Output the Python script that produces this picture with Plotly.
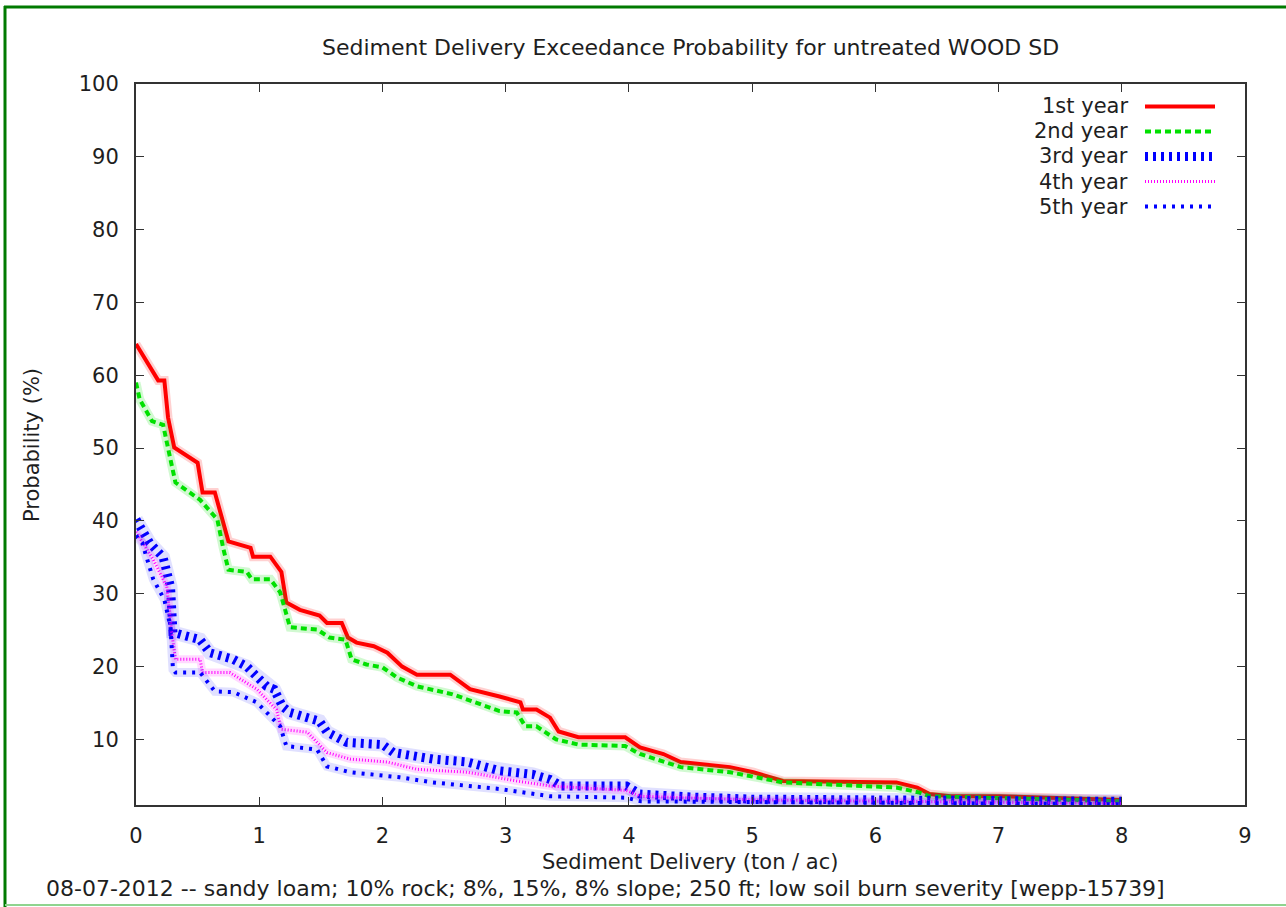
import plotly.graph_objects as go

# ---------------- data ----------------
series_names = ["1st year", "2nd year", "3rd year", "4th year", "5th year"]

yr1_x = [0, 0.18, 0.23, 0.26, 0.31, 0.5, 0.54, 0.64, 0.75, 0.93, 0.95, 1.09, 1.18, 1.22, 1.33, 1.49,
         1.55, 1.67, 1.72, 1.79, 1.93, 2.04, 2.16, 2.28, 2.55, 2.71, 2.95, 3.12, 3.14, 3.25, 3.36,
         3.43, 3.59, 3.97, 4.09, 4.28, 4.42, 4.82, 5.01, 5.25, 6.17, 6.34, 6.44, 6.61, 7.01, 8.0]
yr1_y = [64.3, 59.3, 59.3, 54.2, 50.1, 48.0, 43.9, 43.9, 37.2, 36.3, 35.1, 35.1, 33.0, 28.8, 27.8, 27.0,
         26.0, 26.0, 24.0, 23.3, 22.8, 21.9, 20.0, 18.9, 18.9, 16.9, 15.9, 15.1, 14.1, 14.1, 13.0,
         11.1, 10.3, 10.3, 8.9, 8.0, 6.9, 6.2, 5.5, 4.3, 4.1, 3.4, 2.5, 2.2, 2.2, 1.7]

yr2_x = [0, 0.03, 0.13, 0.22, 0.26, 0.32, 0.52, 0.66, 0.71, 0.75, 0.9, 0.94, 1.09, 1.17, 1.21, 1.25,
         1.47, 1.57, 1.7, 1.75, 1.87, 2.0, 2.12, 2.28, 2.57, 2.68, 2.95, 3.09, 3.16, 3.25, 3.41, 3.59,
         3.97, 4.09, 4.42, 4.82, 5.25, 6.17, 6.36, 6.44, 8.0]
yr2_y = [59.0, 56.7, 53.7, 53.2, 50.0, 45.3, 42.9, 40.2, 36.1, 33.3, 33.0, 32.0, 32.0, 30.2, 27.8, 25.4,
         25.1, 24.0, 23.7, 21.0, 20.3, 19.9, 18.5, 17.3, 16.2, 15.5, 13.9, 13.7, 11.8, 11.8, 10.0, 9.3,
         9.1, 8.0, 6.2, 5.5, 4.1, 3.4, 2.7, 2.2, 1.5]

yr3_x = [0, 0.11, 0.22, 0.28, 0.3, 0.41, 0.52, 0.6, 0.79, 0.9, 0.95, 1.06, 1.12, 1.19, 1.25, 1.49, 1.55,
         1.71, 2.0, 2.09, 2.41, 2.69, 2.95, 3.22, 3.36, 3.45, 3.98, 4.09, 4.5, 5.0, 8.0]
yr3_y = [40.2, 37.0, 35.0, 31.0, 24.7, 24.1, 23.7, 21.9, 21.0, 20.0, 19.2, 17.3, 16.9, 14.5, 13.7, 12.5,
         11.0, 9.6, 9.3, 8.2, 7.3, 6.9, 5.7, 5.2, 4.5, 3.6, 3.6, 2.5, 2.1, 1.8, 1.5]

yr4_x = [0, 0.14, 0.25, 0.29, 0.32, 0.52, 0.54, 0.76, 0.98, 1.14, 1.18, 1.39, 1.55, 1.74, 2.04, 2.28,
         2.69, 3.09, 3.36, 3.98, 4.09, 5.0, 8.0]
yr4_y = [38.5, 34.7, 31.0, 24.7, 21.0, 21.0, 19.2, 19.2, 16.9, 14.1, 11.4, 11.0, 8.2, 7.3, 6.9, 5.9,
         5.5, 4.3, 3.6, 3.0, 2.2, 1.7, 1.2]

yr5_x = [0, 0.05, 0.14, 0.23, 0.28, 0.3, 0.32, 0.52, 0.64, 0.79, 0.98, 1.17, 1.22, 1.47, 1.55, 1.74,
         2.14, 2.41, 2.95, 3.36, 3.98, 4.1, 8.0]
yr5_y = [38.0, 37.0, 32.0, 29.2, 25.5, 19.6, 19.2, 19.2, 16.6, 16.5, 15.1, 11.8, 9.1, 8.6, 6.3, 5.5,
         4.8, 4.1, 3.2, 2.2, 2.0, 1.5, 1.1]

x_ticks = [0, 1, 2, 3, 4, 5, 6, 7, 8, 9]
y_ticks = [10, 20, 30, 40, 50, 60, 70, 80, 90, 100]

title_text = "Sediment Delivery Exceedance Probability for untreated WOOD SD"
x_title = "Sediment Delivery (ton / ac)"
y_title = "Probability (%)"
footer_text = ("08-07-2012 -- sandy loam; 10% rock; 8%, 15%, 8% slope; 250 ft; "
               "low soil burn severity [wepp-15739]")

# ---------------- styles ----------------
styles = [
    dict(color="#ff0000", width=4, dash="solid"),
    dict(color="#00e000", width=4, dash="6px,4px"),
    dict(color="#0000ff", width=9, dash="3px,5px"),
    dict(color="#ff00ff", width=3, dash="1px,2px"),
    dict(color="#0000ff", width=4, dash="3px,6px"),
]
halo = ["rgba(255,0,0,0.18)", "rgba(0,224,0,0.18)", "rgba(0,0,255,0.12)",
        "rgba(255,0,255,0.15)", "rgba(0,0,255,0.12)"]

W, H = 1286, 907
ML, MR, MT, MB = 136, 41, 84, 102
PW, PH = W - ML - MR, H - MT - MB


def px(xp):
    return (xp - ML) / PW


def py(yp):
    return (H - MB - yp) / PH


FONT = "DejaVu Sans"
TXT = "#1e1e1e"

fig = go.Figure()
data = [(yr1_x, yr1_y), (yr2_x, yr2_y), (yr3_x, yr3_y), (yr4_x, yr4_y), (yr5_x, yr5_y)]
for i, ((xs, ys), st) in enumerate(zip(data, styles)):
    fig.add_trace(go.Scatter(x=xs, y=ys, mode="lines", name=series_names[i] + " halo",
                             line=dict(color=halo[i], width=st["width"] + 5),
                             showlegend=False, hoverinfo="skip"))
    fig.add_trace(go.Scatter(x=xs, y=ys, mode="lines", name=series_names[i],
                             line=st, showlegend=False))

# legend: text on the left, sample on the right (as in the reference)
leg_rows = list(range(1, len(series_names) + 1))
for i, name in enumerate(series_names):
    fig.add_trace(go.Scatter(x=[0, 1], y=[leg_rows[i], leg_rows[i]], mode="lines",
                             line=styles[i], xaxis="x2", yaxis="y2",
                             showlegend=False, hoverinfo="skip"))

annotations = []
for i, name in enumerate(series_names):
    annotations.append(dict(text=name, xref="paper", yref="paper", x=px(1130),
                            y=py(94 + (leg_rows[i] - 0.5) / 5 * 125), xanchor="right",
                            yanchor="middle", showarrow=False,
                            font=dict(family=FONT, size=21, color=TXT)))

annotations += [
    dict(text=title_text, xref="paper", yref="paper", x=px(690), y=py(47), xanchor="center",
         yanchor="middle", showarrow=False, font=dict(family=FONT, size=22, color=TXT)),
    dict(text=x_title, xref="paper", yref="paper", x=px(690), y=py(862), xanchor="center",
         yanchor="middle", showarrow=False, font=dict(family=FONT, size=21, color=TXT)),
    dict(text=y_title, xref="paper", yref="paper", x=px(32), y=py(445), xanchor="center",
         yanchor="middle", textangle=-90, showarrow=False,
         font=dict(family=FONT, size=21, color=TXT)),
    dict(text=footer_text, xref="paper", yref="paper", x=px(44), y=py(888), xanchor="left",
         yanchor="middle", showarrow=False, font=dict(family=FONT, size=22, color=TXT)),
]

shapes = [
    dict(type="line", xref="paper", yref="paper", x0=px(4), x1=px(W + 5), y0=py(7), y1=py(7),
         line=dict(color="#007a00", width=3)),
    dict(type="line", xref="paper", yref="paper", x0=px(5), x1=px(5), y0=py(6), y1=py(H + 5),
         line=dict(color="#007a00", width=3)),
    dict(type="line", xref="paper", yref="paper", x0=px(5), x1=px(W + 5), y0=py(905), y1=py(905),
         line=dict(color="#8fd48f", width=2)),
]

axis_common = dict(showline=True, linecolor="#333333", linewidth=2, mirror="ticks",
                   ticks="inside", ticklen=8, tickwidth=1, tickcolor="#333333",
                   showgrid=False, zeroline=False,
                   tickfont=dict(family=FONT, size=21, color=TXT))

fig.update_layout(
    width=W, height=H,
    margin=dict(l=ML, r=MR, t=MT, b=MB, pad=0),
    paper_bgcolor="white", plot_bgcolor="white",
    showlegend=False,
    xaxis=dict(range=[0, 9], tickvals=x_ticks, ticklabelstandoff=11, **axis_common),
    yaxis=dict(range=[1, 100], tickvals=y_ticks, ticklabelstandoff=11, **axis_common),
    xaxis2=dict(domain=[px(1145), px(1215)], range=[0, 1], visible=False, anchor="y2"),
    yaxis2=dict(domain=[py(219), py(94)], range=[5.5, 0.5], visible=False, anchor="x2"),
    annotations=annotations,
    shapes=shapes,
)

fig.write_html("out.html", config={"displayModeBar": False},
               post_script="document.body.style.margin='0';")
